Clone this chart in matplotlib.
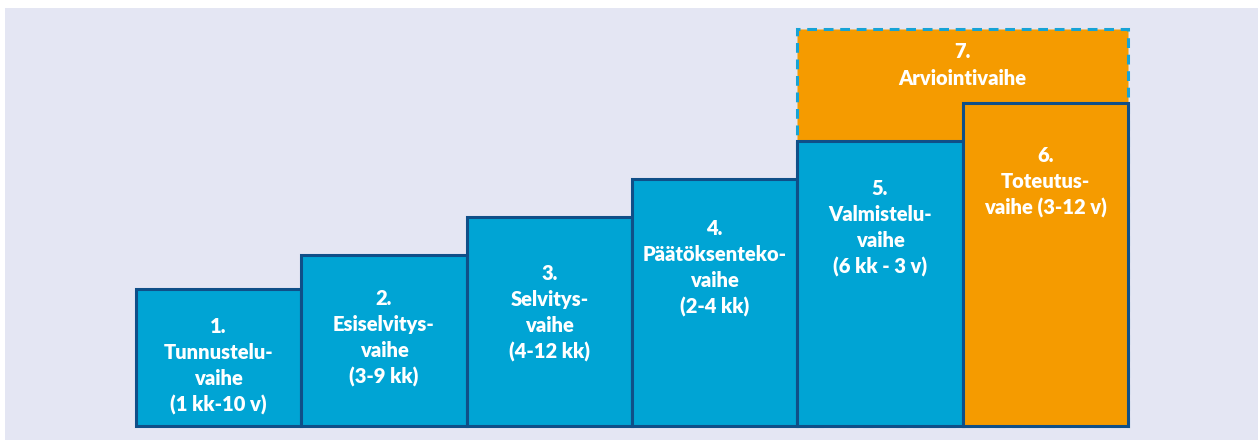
import numpy as np
import matplotlib
matplotlib.use("Agg")
import matplotlib.pyplot as plt
from matplotlib.patches import Rectangle

# phase data (heights in arbitrary step units)
phases = ["1", "2", "3", "4", "5", "6"]
heights = [137, 171, 209, 247, 285, 323]
labels = [
    "1.\nTunnustelu-\nvaihe\n(1 kk-10 v)",
    "2.\nEsiselvitys-\nvaihe\n(3-9 kk)",
    "3.\nSelvitys-\nvaihe\n(4-12 kk)",
    "4.\nPäätöksenteko-\nvaihe\n(2-4 kk)",
    "5.\nValmistelu-\nvaihe\n(6 kk - 3 v)",
    "6.\nToteutus-\nvaihe (3-12 v)",
]
eval_top = 397
eval_label = "7.\nArviointivaihe"

# layout
label_y = [60, 88, 113, 158, 198, 244]
eval_label_y = 361
blue = "#00a4d4"
orange = "#f59b00"
edge = "#0f4f88"
dash_col = "#16a3d6"
bg = "#e4e6f3"

W, H = 1258, 441
fig = plt.figure(figsize=(W / 100, H / 100), dpi=100)
fig.patch.set_facecolor("white")
fig.patches.append(Rectangle((5 / W, 1 / H), 1 - 5 / W, (440 - 8) / H,
                             transform=fig.transFigure, facecolor=bg,
                             edgecolor="none", zorder=-10))

ax = fig.add_axes([136 / W, 15 / H, (1128 - 136) / W, (426 - 29) / H])
ax.set_facecolor("none")
ax.set_xlim(-0.5, 5.5)
ax.set_ylim(0, eval_top)
ax.axis("off")

x = np.arange(len(phases))

# evaluation phase box behind phases 5 and 6
ax.bar(4.5, eval_top, width=2, color=orange, edgecolor=dash_col,
       linewidth=2.2, linestyle=(0, (3.2, 2.2)), zorder=1, clip_on=False)

colors = [blue] * 5 + [orange]
ax.bar(x, heights, width=1, color=colors, edgecolor=edge, linewidth=2.2,
       zorder=2, clip_on=False)

txt = dict(color="white", fontsize=14.5, fontweight="heavy", family="Lato",
           ha="center", va="center", linespacing=1.45, zorder=3)
for xi, lab, ly in zip(x, labels, label_y):
    ax.text(xi, ly, lab, **txt)
ax.text(4.5, eval_label_y, eval_label, **txt)

fig.savefig("out.png", dpi=100)
